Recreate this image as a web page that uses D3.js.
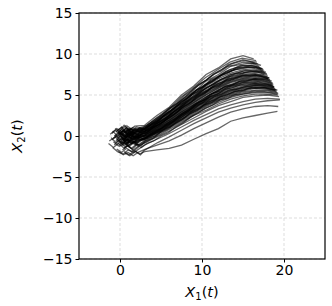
<!DOCTYPE html>
<html>
<head>
<meta charset="utf-8">
<script src="https://cdn.jsdelivr.net/npm/d3@7"></script>
<style>
  body { margin: 0; background: #fff; }
  text { font-family: "DejaVu Sans", sans-serif; }
</style>
</head>
<body>
<script>
// axis ticks
var xTicks = [0, 10, 20];
var yTicks = [-15, -10, -5, 0, 5, 10, 15];

// trajectories, flat x,y lists (top of bundle first)
var paths = [
  [0.3,0.9, -0.2,0.4, 0.5,1.3, 1.1,0.7, 1.8,1.2, 3.0,1.3, 4.5,2.5, 6.0,3.5, 7.5,5.0, 9.0,6.1, 10.5,7.5, 12.0,8.3, 13.5,9.4, 15.0,9.8, 16.3,9.4],
  [0.8,1.3, 0.2,0.8, 0.9,0.3, 1.5,1.0, 2.2,0.8, 3.1,1.1, 4.6,2.3, 6.1,3.4, 7.4,4.7, 9.1,6.0, 10.4,7.1, 12.1,8.2, 13.4,9.0, 14.9,9.5, 16.6,9.2],
  [-0.5,0.5, 0.2,1.1, 0.7,0.4, 1.3,0.9, 2.0,0.6, 3.0,1.0, 4.4,1.9, 6.0,3.3, 7.6,4.4, 9.0,5.8, 10.6,6.9, 12.0,7.9, 13.6,8.8, 15.0,9.2, 16.7,9.0],
  [0.1,-0.2, 0.6,0.6, 1.2,0.1, 1.7,0.8, 2.4,0.5, 3.2,1.0, 4.5,2.0, 6.1,3.0, 7.5,4.4, 9.1,5.4, 10.5,6.7, 12.0,7.5, 13.5,8.5, 15.1,8.8, 16.4,8.9, 17.2,8.6],
  [-1.0,0.3, -0.4,0.9, 0.3,0.5, 0.9,1.2, 1.6,0.7, 3.0,0.9, 4.4,1.8, 5.9,2.9, 7.5,4.1, 9.0,5.4, 10.6,6.4, 12.1,7.3, 13.4,8.1, 15.0,8.6, 16.6,8.5, 17.4,8.2],
  [0.5,-0.6, 1.0,0.2, 0.4,0.5, 1.3,0.1, 2.1,0.6, 3.1,0.8, 4.5,1.8, 6.0,2.9, 7.4,4.0, 9.0,5.2, 10.5,6.2, 12.0,7.2, 13.5,7.9, 15.0,8.3, 16.5,8.4, 17.5,8.1],
  [-0.8,-0.3, -0.1,0.4, 0.6,-0.1, 1.1,0.6, 1.9,0.3, 3.0,0.9, 4.6,1.7, 6.0,2.7, 7.6,3.9, 9.1,5.0, 10.4,6.0, 12.0,7.0, 13.6,7.7, 15.1,8.1, 16.4,8.2, 17.6,7.9],
  [0.0,0.7, 0.5,0.1, 1.0,0.8, 1.6,0.2, 2.3,0.7, 3.1,0.7, 4.5,1.6, 6.1,2.6, 7.5,3.8, 9.0,4.9, 10.6,5.9, 12.1,6.8, 13.5,7.5, 15.0,7.9, 16.5,8.0, 17.8,7.8],
  [1.0,0.4, 0.4,-0.3, 1.1,-0.5, 1.7,0.3, 2.4,0.1, 3.2,0.7, 4.4,1.5, 6.0,2.5, 7.5,3.7, 8.9,4.7, 10.5,5.8, 12.0,6.6, 13.5,7.3, 15.0,7.7, 16.6,7.9, 17.9,7.6],
  [-0.6,0.1, 0.0,-0.5, 0.6,0.2, 1.2,-0.3, 1.8,0.4, 3.0,0.6, 4.5,1.5, 6.0,2.4, 7.4,3.5, 9.0,4.6, 10.5,5.6, 12.0,6.4, 13.5,7.1, 15.0,7.5, 16.5,7.6, 18.0,7.4],
  [0.2,0.3, 0.7,-0.2, 1.3,0.5, 0.8,1.0, 1.7,0.6, 3.0,0.5, 4.6,1.4, 6.1,2.3, 7.5,3.4, 9.1,4.4, 10.4,5.4, 12.0,6.2, 13.6,6.9, 15.0,7.4, 16.4,7.5, 18.0,7.2],
  [-1.3,-0.6, -0.6,-0.1, 0.1,-0.8, 0.8,-0.2, 1.5,0.2, 3.0,0.5, 4.5,1.3, 6.0,2.2, 7.5,3.3, 9.0,4.3, 10.5,5.3, 12.1,6.1, 13.5,6.8, 15.0,7.2, 16.5,7.4, 18.2,7.1],
  [0.6,0.0, 1.1,-0.6, 1.6,0.0, 2.2,-0.3, 2.6,0.3, 3.2,0.4, 4.5,1.2, 6.0,2.2, 7.5,3.2, 9.1,4.2, 10.5,5.2, 12.0,6.0, 13.5,6.7, 15.1,7.1, 16.5,7.2, 18.1,7.0],
  [-0.3,-1.0, 0.3,-0.4, 0.9,-0.9, 1.4,-0.3, 2.0,-0.1, 3.0,0.4, 4.4,1.2, 6.0,2.1, 7.6,3.2, 9.0,4.1, 10.6,5.1, 12.0,5.9, 13.5,6.6, 15.0,7.0, 16.6,7.1, 18.3,6.9],
  [0.4,0.6, -0.2,0.1, 0.5,-0.4, 1.2,0.3, 1.9,-0.2, 3.1,0.3, 4.5,1.1, 6.0,2.0, 7.5,3.0, 9.0,4.0, 10.5,5.0, 12.0,5.8, 13.5,6.5, 15.0,6.9, 16.5,7.0, 18.0,6.9, 18.5,6.7],
  [-0.9,0.6, -0.3,0.0, 0.4,0.7, 1.0,0.1, 1.7,-0.1, 3.0,0.3, 4.6,1.1, 6.1,2.0, 7.4,2.9, 9.1,3.9, 10.5,4.8, 12.1,5.7, 13.5,6.3, 15.0,6.8, 16.5,6.9, 18.0,6.8, 18.4,6.6],
  [0.0,0.1, 0.6,-0.7, 1.2,-0.2, 1.8,-0.8, 2.4,-0.2, 3.1,0.2, 4.5,1.0, 6.0,1.9, 7.5,2.9, 9.0,3.8, 10.4,4.7, 12.0,5.6, 13.6,6.2, 15.0,6.6, 16.4,6.8, 18.0,6.6, 18.6,6.4],
  [1.4,0.2, 0.8,-0.4, 1.5,-0.6, 2.1,0.0, 2.6,-0.4, 3.2,0.2, 4.5,0.9, 6.0,1.8, 7.5,2.8, 9.0,3.7, 10.6,4.6, 12.0,5.4, 13.5,6.1, 15.0,6.5, 16.5,6.7, 18.0,6.5, 18.7,6.3],
  [-0.5,-0.6, 0.1,0.0, 0.7,-0.6, 1.3,-0.1, 1.9,-0.5, 3.0,0.1, 4.4,0.9, 6.0,1.7, 7.5,2.7, 9.0,3.6, 10.5,4.5, 12.1,5.3, 13.5,6.0, 15.1,6.4, 16.5,6.5, 18.1,6.4, 18.6,6.2],
  [0.2,-1.2, 0.7,-0.6, 0.3,-0.2, 1.0,-0.7, 1.8,-0.3, 3.0,0.1, 4.5,0.8, 6.0,1.7, 7.6,2.7, 9.0,3.5, 10.5,4.4, 12.0,5.2, 13.4,5.8, 15.0,6.3, 16.6,6.4, 18.0,6.3, 18.7,6.1],
  [-1.1,-0.2, -0.5,-0.8, 0.2,-0.3, 0.8,-0.9, 1.6,-0.4, 3.0,0.0, 4.5,0.8, 6.0,1.6, 7.5,2.5, 9.1,3.5, 10.5,4.3, 12.0,5.1, 13.5,5.7, 15.0,6.1, 16.5,6.3, 18.0,6.2, 18.8,6.0],
  [0.9,-0.3, 1.4,-0.9, 2.0,-0.4, 1.5,0.1, 2.3,-0.2, 3.1,0.0, 4.6,0.7, 6.1,1.5, 7.5,2.5, 9.0,3.4, 10.4,4.2, 12.0,5.0, 13.5,5.6, 15.1,6.0, 16.5,6.2, 18.1,6.1, 18.8,5.9],
  [-0.2,0.4, 0.4,-0.2, 1.0,0.4, 1.6,-0.2, 2.2,0.2, 3.0,-0.1, 4.5,0.7, 6.0,1.5, 7.5,2.4, 9.0,3.3, 10.5,4.1, 12.0,4.9, 13.5,5.5, 15.0,5.9, 16.5,6.1, 18.0,6.0, 18.9,5.8],
  [0.5,-1.5, 1.1,-1.0, 0.6,-0.6, 1.3,-0.9, 2.0,-0.6, 3.1,-0.2, 4.4,0.6, 6.0,1.4, 7.5,2.3, 9.0,3.2, 10.6,4.0, 12.0,4.8, 13.5,5.4, 15.0,5.8, 16.5,6.0, 18.1,5.9, 19.0,5.7],
  [-0.7,-1.1, -0.1,-0.5, 0.5,-1.1, 1.1,-0.6, 1.8,-0.8, 3.0,-0.2, 4.5,0.6, 6.0,1.3, 7.4,2.2, 9.0,3.1, 10.5,3.9, 12.1,4.7, 13.5,5.2, 15.0,5.7, 16.5,5.9, 18.0,5.8, 18.9,5.6],
  [1.7,0.5, 1.1,0.0, 1.7,-0.5, 2.3,0.1, 2.7,-0.3, 3.2,-0.2, 4.5,0.5, 6.0,1.2, 7.5,2.1, 9.0,3.0, 10.5,3.8, 12.0,4.5, 13.5,5.1, 15.0,5.5, 16.5,5.8, 18.0,5.7, 19.0,5.5],
  [0.0,-0.8, 0.6,-1.3, 1.2,-0.7, 1.9,-1.1, 2.4,-0.6, 3.0,-0.3, 4.5,0.4, 6.1,1.2, 7.5,2.0, 9.0,2.9, 10.5,3.7, 12.0,4.4, 13.5,5.0, 15.0,5.4, 16.6,5.6, 18.0,5.6, 19.1,5.4],
  [-1.4,-0.9, -0.8,-1.4, -0.2,-0.9, 0.5,-1.5, 1.3,-1.0, 3.0,-0.4, 4.5,0.3, 6.0,1.1, 7.5,1.9, 9.1,2.8, 10.5,3.6, 12.0,4.3, 13.5,4.9, 15.1,5.3, 16.5,5.5, 18.0,5.5, 19.2,5.3],
  [0.3,-1.7, 0.9,-1.2, 1.5,-1.6, 2.1,-1.0, 2.6,-1.2, 3.1,-0.6, 4.5,0.2, 6.0,1.0, 7.6,1.8, 9.0,2.6, 10.5,3.4, 12.0,4.1, 13.5,4.7, 15.0,5.1, 16.5,5.3, 18.0,5.3, 19.2,5.1],
  [-0.4,-1.6, 0.2,-2.0, 0.8,-1.5, 1.4,-1.9, 2.0,-1.4, 3.0,-0.8, 4.5,0.0, 6.0,0.8, 7.5,1.6, 9.0,2.5, 10.6,3.2, 12.0,3.9, 13.5,4.5, 15.0,4.9, 16.5,5.1, 18.0,5.1, 19.3,5.0],
  [1.1,-1.3, 1.7,-1.8, 2.3,-1.3, 1.8,-0.9, 2.5,-1.1, 3.1,-0.8, 4.5,-0.1, 6.0,0.6, 7.5,1.4, 9.0,2.2, 10.5,3.0, 12.0,3.7, 13.5,4.2, 15.0,4.7, 16.5,4.9, 18.0,5.0, 19.4,4.8],
  [-0.9,-1.4, -0.3,-1.9, 0.4,-2.2, 1.0,-1.7, 1.7,-2.0, 3.0,-1.1, 4.5,-0.4, 6.0,0.3, 7.5,1.1, 9.0,1.9, 10.5,2.6, 12.0,3.3, 13.5,3.8, 15.0,4.2, 16.5,4.5, 18.0,4.6, 19.5,4.5],
  [0.6,-2.1, 1.2,-2.4, 1.9,-1.9, 2.5,-2.3, 2.9,-1.8, 3.4,-1.5, 4.6,-0.8, 6.0,-0.1, 7.5,0.7, 9.0,1.5, 10.5,2.2, 12.0,2.9, 13.5,3.4, 15.0,3.8, 16.5,4.1, 18.0,4.3, 19.5,4.4],
  [-0.2,-1.9, 0.4,-2.3, 1.0,-2.0, 1.6,-2.4, 2.2,-2.0, 3.1,-1.6, 4.5,-1.1, 6.0,-0.6, 7.5,0.1, 9.0,0.9, 10.5,1.6, 12.0,2.3, 13.5,2.9, 15.0,3.3, 16.5,3.6, 18.0,3.7, 19.3,3.6],
  [0.5,-1.9, 1.1,-2.3, 1.8,-1.8, 2.4,-2.2, 3.0,-1.9, 4.5,-1.7, 6.0,-1.5, 7.5,-1.1, 9.0,-0.4, 10.5,0.3, 12.0,0.9, 13.5,1.8, 15.0,2.2, 16.5,2.5, 18.0,2.8, 19.2,3.0],
  [0.2,0.5, 0.8,1.0, 1.4,0.6, 2.0,1.1, 2.7,0.9, 3.5,1.5, 4.3,1.9, 5.2,2.6, 6.0,3.2, 6.9,3.9, 7.8,4.7, 8.7,5.3, 9.6,6.2, 10.5,6.8, 11.4,7.6, 12.3,8.0, 13.2,8.7, 14.1,9.0, 15.0,9.3, 15.8,9.1, 16.4,8.9],
  [-0.6,0.9, 0.0,0.4, 0.7,0.9, 1.3,0.4, 2.0,0.9, 2.8,0.8, 3.6,1.3, 4.4,1.6, 5.3,2.4, 6.2,2.9, 7.0,3.6, 7.9,4.2, 8.8,5.0, 9.7,5.5, 10.6,6.3, 11.5,6.8, 12.4,7.5, 13.3,7.8, 14.2,8.3, 15.1,8.4, 16.0,8.6, 16.9,8.4, 17.3,8.2],
  [0.9,0.1, 1.5,0.6, 2.1,0.2, 2.7,0.7, 3.4,0.9, 4.2,1.2, 5.1,1.9, 6.0,2.5, 6.9,3.2, 7.8,3.8, 8.7,4.6, 9.6,5.1, 10.5,5.9, 11.4,6.3, 12.3,6.9, 13.2,7.2, 14.1,7.6, 15.0,7.7, 15.9,7.9, 16.8,7.8, 17.6,7.5],
  [-0.3,-0.2, 0.3,0.3, 0.9,-0.2, 1.5,0.3, 2.1,-0.1, 2.8,0.3, 3.6,0.7, 4.5,1.3, 5.4,1.8, 6.3,2.6, 7.2,3.1, 8.1,3.9, 9.0,4.4, 9.9,5.1, 10.8,5.6, 11.7,6.2, 12.6,6.6, 13.5,7.0, 14.4,7.2, 15.3,7.4, 16.2,7.3, 17.1,7.3, 18.0,7.0],
  [0.4,-0.9, 1.0,-0.4, 1.6,-0.8, 2.2,-0.3, 2.9,-0.5, 3.7,0.1, 4.6,0.6, 5.5,1.3, 6.4,1.8, 7.3,2.6, 8.2,3.1, 9.1,3.9, 10.0,4.3, 10.9,5.0, 11.8,5.4, 12.7,6.0, 13.6,6.2, 14.5,6.6, 15.4,6.7, 16.3,6.9, 17.2,6.8, 18.1,6.6, 18.6,6.5],
  [-1.2,0.2, -0.6,0.7, 0.0,0.2, 0.6,0.7, 1.3,0.3, 2.1,0.6, 3.0,0.9, 3.9,1.5, 4.8,2.0, 5.7,2.8, 6.6,3.4, 7.5,4.2, 8.4,4.8, 9.3,5.6, 10.2,6.1, 11.1,6.9, 12.0,7.3, 12.9,7.9, 13.8,8.2, 14.7,8.6, 15.6,8.6, 16.5,8.7, 17.0,8.5],
  [1.2,-0.8, 0.6,-0.3, 1.2,0.2, 1.9,-0.4, 2.5,0.1, 3.3,0.0, 4.2,0.6, 5.1,1.0, 6.0,1.7, 6.9,2.2, 7.8,2.9, 8.7,3.4, 9.6,4.1, 10.5,4.5, 11.4,5.2, 12.3,5.5, 13.2,6.0, 14.1,6.2, 15.0,6.5, 15.9,6.5, 16.8,6.6, 17.7,6.4, 18.5,6.2],
  [-0.1,-1.3, 0.5,-0.8, 1.1,-1.3, 1.7,-0.8, 2.3,-1.1, 3.1,-0.6, 4.0,-0.3, 4.9,0.4, 5.8,0.8, 6.7,1.5, 7.6,2.0, 8.5,2.7, 9.4,3.1, 10.3,3.8, 11.2,4.1, 12.1,4.7, 13.0,5.0, 13.9,5.4, 14.8,5.5, 15.7,5.8, 16.6,5.8, 17.5,5.9, 18.4,5.7, 19.1,5.6],
  [0.7,0.8, 1.3,0.3, 1.9,0.8, 2.5,0.4, 3.2,0.9, 4.0,1.3, 4.9,2.1, 5.8,2.6, 6.7,3.5, 7.6,4.0, 8.5,4.9, 9.4,5.4, 10.3,6.2, 11.2,6.6, 12.1,7.3, 13.0,7.6, 13.9,8.1, 14.8,8.2, 15.7,8.4, 16.6,8.3, 17.4,8.0],
  [-0.8,-0.7, -0.2,-1.2, 0.4,-0.7, 1.0,-1.2, 1.7,-0.7, 2.5,-0.9, 3.4,-0.3, 4.3,0.0, 5.2,0.7, 6.1,1.1, 7.0,1.8, 7.9,2.3, 8.8,3.0, 9.7,3.4, 10.6,4.1, 11.5,4.4, 12.4,4.9, 13.3,5.2, 14.2,5.5, 15.1,5.6, 16.0,5.9, 16.9,5.9, 17.8,5.9, 18.7,5.7, 19.2,5.6],
  [0.0,0.3, 0.6,-0.2, 1.2,0.3, 1.8,-0.1, 2.4,0.4, 3.1,0.3, 3.9,0.9, 4.8,1.3, 5.7,2.1, 6.6,2.6, 7.5,3.4, 8.4,3.9, 9.3,4.7, 10.2,5.1, 11.1,5.8, 12.0,6.1, 12.9,6.7, 13.8,6.9, 14.7,7.2, 15.6,7.2, 16.5,7.4, 17.4,7.2, 18.1,7.0],
  [1.5,-0.4, 0.9,0.1, 1.5,0.5, 2.1,0.1, 2.8,0.5, 3.6,0.8, 4.5,1.5, 5.4,2.0, 6.3,2.8, 7.2,3.4, 8.1,4.2, 9.0,4.7, 9.9,5.5, 10.8,6.0, 11.7,6.6, 12.6,7.0, 13.5,7.5, 14.4,7.7, 15.3,8.0, 16.2,7.9, 17.1,7.9, 17.7,7.7],
  [-0.4,-0.4, 0.2,-0.9, 0.8,-0.4, 1.4,-0.9, 2.1,-0.5, 2.9,-0.4, 3.8,0.2, 4.7,0.6, 5.6,1.3, 6.5,1.8, 7.4,2.5, 8.3,3.0, 9.2,3.7, 10.1,4.1, 11.0,4.8, 11.9,5.1, 12.8,5.7, 13.7,5.9, 14.6,6.2, 15.5,6.2, 16.4,6.4, 17.3,6.3, 18.2,6.2, 18.8,6.0],
  [0.3,1.1, -0.3,0.7, 0.3,0.2, 0.9,0.8, 1.6,0.4, 2.4,1.0, 3.3,1.3, 4.2,2.0, 5.1,2.6, 6.0,3.4, 6.9,4.0, 7.8,4.9, 8.7,5.5, 9.6,6.3, 10.5,6.8, 11.4,7.5, 12.3,7.9, 13.2,8.5, 14.1,8.7, 15.0,9.0, 15.9,8.9, 16.8,8.8],
  [0.8,-1.0, 1.4,-1.5, 2.0,-1.0, 2.6,-1.4, 3.3,-0.9, 4.1,-0.6, 5.0,0.0, 5.9,0.4, 6.8,1.1, 7.7,1.6, 8.6,2.3, 9.5,2.8, 10.4,3.4, 11.3,3.8, 12.2,4.4, 13.1,4.6, 14.0,5.0, 14.9,5.1, 15.8,5.3, 16.7,5.4, 17.6,5.4, 18.5,5.3, 19.3,5.2],
  [-0.7,0.0, -0.1,0.5, 0.5,0.0, 1.1,0.4, 1.8,0.1, 2.6,0.4, 3.5,0.8, 4.4,1.5, 5.3,1.9, 6.2,2.7, 7.1,3.2, 8.0,4.0, 8.9,4.5, 9.8,5.2, 10.7,5.6, 11.6,6.3, 12.5,6.6, 13.4,7.2, 14.3,7.4, 15.2,7.7, 16.1,7.7, 17.0,7.8, 17.9,7.5],
  [0.1,-0.6, 0.7,-1.0, 1.3,-0.5, 1.9,-0.9, 2.6,-0.4, 3.4,-0.3, 4.3,0.3, 5.2,0.7, 6.1,1.4, 7.0,1.9, 7.9,2.6, 8.8,3.1, 9.7,3.8, 10.6,4.2, 11.5,4.8, 12.4,5.1, 13.3,5.6, 14.2,5.7, 15.1,6.0, 16.0,6.1, 16.9,6.2, 17.8,6.1, 18.7,5.9],
  [1.9,0.0, 1.3,-0.5, 1.9,-0.1, 2.5,-0.6, 3.1,-0.2, 3.9,0.1, 4.8,0.6, 5.7,1.2, 6.6,1.8, 7.5,2.5, 8.4,3.1, 9.3,3.9, 10.2,4.4, 11.1,5.1, 12.0,5.5, 12.9,6.1, 13.8,6.3, 14.7,6.7, 15.6,6.8, 16.5,7.0, 17.4,6.9, 18.3,6.7],
  [-1.0,-0.5, -0.4,0.0, 0.2,-0.5, 0.8,0.0, 1.5,-0.3, 2.3,0.1, 3.2,0.4, 4.1,1.1, 5.0,1.5, 5.9,2.3, 6.8,2.8, 7.7,3.6, 8.6,4.1, 9.5,4.9, 10.4,5.3, 11.3,6.0, 12.2,6.3, 13.1,6.9, 14.0,7.1, 14.9,7.4, 15.8,7.4, 16.7,7.5, 17.6,7.3, 18.2,7.1],
  [0.6,0.4, 1.2,0.9, 1.8,0.5, 2.4,1.0, 3.1,0.8, 3.9,1.5, 4.8,1.9, 5.7,2.8, 6.6,3.3, 7.5,4.2, 8.4,4.7, 9.3,5.6, 10.2,6.0, 11.1,6.8, 12.0,7.1, 12.9,7.8, 13.8,8.0, 14.7,8.4, 15.6,8.4, 16.5,8.4, 17.2,8.2]
];

var width = 332, height = 306;
var padL = 79, padT = 13, padR = 325, padB = 259;

var x = d3.scaleLinear().domain([-5, 25]).range([padL, padR]);
var y = d3.scaleLinear().domain([-15, 15]).range([padB, padT]);

var svg = d3.select('body').append('svg')
  .attr('width', width)
  .attr('height', height);

// grid
svg.append('g').selectAll('line')
  .data(xTicks).enter().append('line')
  .attr('x1', function(d){ return x(d); })
  .attr('x2', function(d){ return x(d); })
  .attr('y1', padT).attr('y2', padB)
  .attr('stroke', '#d4d4d4').attr('stroke-width', 0.8)
  .attr('stroke-dasharray', '3,2');
svg.append('g').selectAll('line')
  .data(yTicks).enter().append('line')
  .attr('y1', function(d){ return y(d); })
  .attr('y2', function(d){ return y(d); })
  .attr('x1', padL).attr('x2', padR)
  .attr('stroke', '#d4d4d4').attr('stroke-width', 0.8)
  .attr('stroke-dasharray', '3,2');

// trajectories
var line = d3.line()
  .x(function(d){ return x(d[0]); })
  .y(function(d){ return y(d[1]); });

svg.append('g').selectAll('path')
  .data(paths.map(function(p){
    var pts = [];
    for (var i = 0; i < p.length; i += 2) pts.push([p[i], p[i+1]]);
    return pts;
  }))
  .enter().append('path')
  .attr('d', line)
  .attr('fill', 'none')
  .attr('stroke', '#000')
  .attr('stroke-opacity', 0.6)
  .attr('stroke-width', 1.3);

// axes
var xAxis = d3.axisBottom(x).tickValues(xTicks).tickSize(3.5).tickPadding(3);
var yAxis = d3.axisLeft(y).tickValues(yTicks).tickSize(3.5).tickPadding(3)
  .tickFormat(function(d){ return d < 0 ? '\u2212' + Math.abs(d) : d; });

svg.append('g').attr('transform', 'translate(0,' + padB + ')').call(xAxis)
  .call(function(g){ g.select('.domain').remove(); })
  .selectAll('text').attr('font-size', 14).attr('fill', '#000')
  .attr('font-family', 'DejaVu Sans');
svg.append('g').attr('transform', 'translate(' + padL + ',0)').call(yAxis)
  .call(function(g){ g.select('.domain').remove(); })
  .selectAll('text').attr('font-size', 14).attr('fill', '#000')
  .attr('font-family', 'DejaVu Sans');
svg.selectAll('.tick line').attr('stroke', '#000').attr('stroke-width', 1);

// frame
svg.append('rect')
  .attr('x', padL).attr('y', padT)
  .attr('width', padR - padL).attr('height', padB - padT)
  .attr('fill', 'none').attr('stroke', '#000').attr('stroke-width', 1.2);

// axis labels
var xl = svg.append('text')
  .attr('x', (padL + padR) / 2).attr('y', 297)
  .attr('text-anchor', 'middle').attr('font-size', 14.5);
xl.append('tspan').attr('font-style', 'italic').text('X');
xl.append('tspan').attr('font-size', 10).attr('dy', 3).text('1');
xl.append('tspan').attr('dy', -3).text('(');
xl.append('tspan').attr('font-style', 'italic').text('t');
xl.append('tspan').text(')');

var yl = svg.append('text')
  .attr('transform', 'translate(22,' + ((padT + padB) / 2) + ') rotate(-90)')
  .attr('text-anchor', 'middle').attr('font-size', 14.5);
yl.append('tspan').attr('font-style', 'italic').text('X');
yl.append('tspan').attr('font-size', 10).attr('dy', 3).text('2');
yl.append('tspan').attr('dy', -3).text('(');
yl.append('tspan').attr('font-style', 'italic').text('t');
yl.append('tspan').text(')');
</script>
</body>
</html>
